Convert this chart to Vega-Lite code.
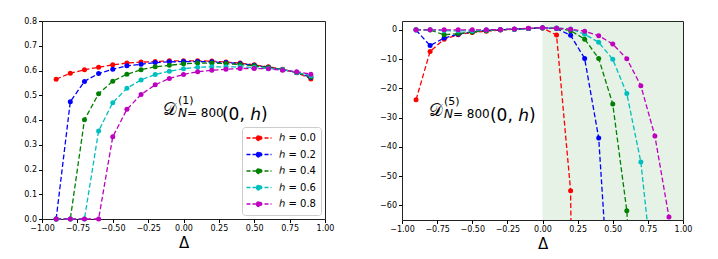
{
  "$schema": "https://vega.github.io/schema/vega-lite/v6.json",
  "padding": {"left": 23, "top": 16, "right": 5, "bottom": 5},
  "spacing": 44,
  "background": "white",
  "config": {
    "font": "DejaVu Sans",
    "view": {"stroke": "#222", "strokeWidth": 1},
    "axis": {"grid": false, "domain": false, "labelFont": "DejaVu Sans", "labelFontSize": 8, "labelColor": "#000", "tickColor": "#000", "tickSize": 3.5, "labelPadding": 2, "labelOverlap": false, "labelFlush": false, "titleFont": "DejaVu Sans", "titleFontWeight": "normal", "titleFontSize": 15, "titleColor": "#000", "titlePadding": 3}
  },
  "resolve": {"legend": {"color": "independent"}},
  "datasets": {
    "left": [
      {"h":0.0,"d":-0.9,"v":0.565},{"h":0.0,"d":-0.8,"v":0.589},{"h":0.0,"d":-0.7,"v":0.603},{"h":0.0,"d":-0.6,"v":0.613},{"h":0.0,"d":-0.5,"v":0.623},{"h":0.0,"d":-0.4,"v":0.630},{"h":0.0,"d":-0.3,"v":0.634},{"h":0.0,"d":-0.2,"v":0.636},{"h":0.0,"d":-0.1,"v":0.639},{"h":0.0,"d":0.0,"v":0.639},{"h":0.0,"d":0.1,"v":0.639},{"h":0.0,"d":0.2,"v":0.638},{"h":0.0,"d":0.3,"v":0.634},{"h":0.0,"d":0.4,"v":0.630},{"h":0.0,"d":0.5,"v":0.623},{"h":0.0,"d":0.6,"v":0.615},{"h":0.0,"d":0.7,"v":0.605},{"h":0.0,"d":0.8,"v":0.591},{"h":0.0,"d":0.9,"v":0.566},
      {"h":0.2,"d":-0.9,"v":0.0},{"h":0.2,"d":-0.8,"v":0.474},{"h":0.2,"d":-0.7,"v":0.556},{"h":0.2,"d":-0.6,"v":0.588},{"h":0.2,"d":-0.5,"v":0.605},{"h":0.2,"d":-0.4,"v":0.619},{"h":0.2,"d":-0.3,"v":0.625},{"h":0.2,"d":-0.2,"v":0.632},{"h":0.2,"d":-0.1,"v":0.635},{"h":0.2,"d":0.0,"v":0.636},{"h":0.2,"d":0.1,"v":0.636},{"h":0.2,"d":0.2,"v":0.635},{"h":0.2,"d":0.3,"v":0.632},{"h":0.2,"d":0.4,"v":0.628},{"h":0.2,"d":0.5,"v":0.621},{"h":0.2,"d":0.6,"v":0.613},{"h":0.2,"d":0.7,"v":0.604},{"h":0.2,"d":0.8,"v":0.592},{"h":0.2,"d":0.9,"v":0.572},
      {"h":0.4,"d":-0.9,"v":0.0},{"h":0.4,"d":-0.8,"v":0.0},{"h":0.4,"d":-0.7,"v":0.401},{"h":0.4,"d":-0.6,"v":0.506},{"h":0.4,"d":-0.5,"v":0.557},{"h":0.4,"d":-0.4,"v":0.585},{"h":0.4,"d":-0.3,"v":0.603},{"h":0.4,"d":-0.2,"v":0.615},{"h":0.4,"d":-0.1,"v":0.621},{"h":0.4,"d":0.0,"v":0.627},{"h":0.4,"d":0.1,"v":0.630},{"h":0.4,"d":0.2,"v":0.630},{"h":0.4,"d":0.3,"v":0.628},{"h":0.4,"d":0.4,"v":0.624},{"h":0.4,"d":0.5,"v":0.619},{"h":0.4,"d":0.6,"v":0.612},{"h":0.4,"d":0.7,"v":0.604},{"h":0.4,"d":0.8,"v":0.592},{"h":0.4,"d":0.9,"v":0.574},
      {"h":0.6,"d":-0.9,"v":0.0},{"h":0.6,"d":-0.8,"v":0.0},{"h":0.6,"d":-0.7,"v":0.0},{"h":0.6,"d":-0.6,"v":0.356},{"h":0.6,"d":-0.5,"v":0.470},{"h":0.6,"d":-0.4,"v":0.528},{"h":0.6,"d":-0.3,"v":0.562},{"h":0.6,"d":-0.2,"v":0.584},{"h":0.6,"d":-0.1,"v":0.597},{"h":0.6,"d":0.0,"v":0.607},{"h":0.6,"d":0.1,"v":0.613},{"h":0.6,"d":0.2,"v":0.615},{"h":0.6,"d":0.3,"v":0.615},{"h":0.6,"d":0.4,"v":0.615},{"h":0.6,"d":0.5,"v":0.612},{"h":0.6,"d":0.6,"v":0.608},{"h":0.6,"d":0.7,"v":0.603},{"h":0.6,"d":0.8,"v":0.593},{"h":0.6,"d":0.9,"v":0.579},
      {"h":0.8,"d":-0.9,"v":0.0},{"h":0.8,"d":-0.8,"v":0.0},{"h":0.8,"d":-0.7,"v":0.0},{"h":0.8,"d":-0.6,"v":0.0},{"h":0.8,"d":-0.5,"v":0.332},{"h":0.8,"d":-0.4,"v":0.443},{"h":0.8,"d":-0.3,"v":0.503},{"h":0.8,"d":-0.2,"v":0.542},{"h":0.8,"d":-0.1,"v":0.568},{"h":0.8,"d":0.0,"v":0.584},{"h":0.8,"d":0.1,"v":0.595},{"h":0.8,"d":0.2,"v":0.601},{"h":0.8,"d":0.3,"v":0.605},{"h":0.8,"d":0.4,"v":0.608},{"h":0.8,"d":0.5,"v":0.608},{"h":0.8,"d":0.6,"v":0.607},{"h":0.8,"d":0.7,"v":0.601},{"h":0.8,"d":0.8,"v":0.595},{"h":0.8,"d":0.9,"v":0.585}
    ],
    "right": [
      {"h":0.0,"d":-0.9,"v":-23.9},{"h":0.0,"d":-0.8,"v":-7.4},{"h":0.0,"d":-0.7,"v":-3.2},{"h":0.0,"d":-0.6,"v":-1.7},{"h":0.0,"d":-0.5,"v":-0.9},{"h":0.0,"d":-0.4,"v":-0.5},{"h":0.0,"d":-0.3,"v":-0.1},{"h":0.0,"d":-0.2,"v":0.2},{"h":0.0,"d":-0.1,"v":0.4},{"h":0.0,"d":0.0,"v":0.6},{"h":0.0,"d":0.1,"v":-1.8},{"h":0.0,"d":0.2,"v":-55.0},{"h":0.0,"d":0.3,"v":-500.0},
      {"h":0.2,"d":-0.9,"v":-0.1},{"h":0.2,"d":-0.8,"v":-5.4},{"h":0.2,"d":-0.7,"v":-2.8},{"h":0.2,"d":-0.6,"v":-1.5},{"h":0.2,"d":-0.5,"v":-0.7},{"h":0.2,"d":-0.4,"v":-0.2},{"h":0.2,"d":-0.3,"v":0.0},{"h":0.2,"d":-0.2,"v":0.2},{"h":0.2,"d":-0.1,"v":0.4},{"h":0.2,"d":0.0,"v":0.7},{"h":0.2,"d":0.1,"v":0.4},{"h":0.2,"d":0.2,"v":-1.9},{"h":0.2,"d":0.3,"v":-9.8},{"h":0.2,"d":0.4,"v":-37.0},{"h":0.2,"d":0.5,"v":-111.0},
      {"h":0.4,"d":-0.9,"v":0.0},{"h":0.4,"d":-0.8,"v":-0.1},{"h":0.4,"d":-0.7,"v":-1.7},{"h":0.4,"d":-0.6,"v":-1.3},{"h":0.4,"d":-0.5,"v":-0.8},{"h":0.4,"d":-0.4,"v":-0.3},{"h":0.4,"d":-0.3,"v":0.0},{"h":0.4,"d":-0.2,"v":0.2},{"h":0.4,"d":-0.1,"v":0.4},{"h":0.4,"d":0.0,"v":0.6},{"h":0.4,"d":0.1,"v":0.5},{"h":0.4,"d":0.2,"v":-0.3},{"h":0.4,"d":0.3,"v":-3.2},{"h":0.4,"d":0.4,"v":-9.8},{"h":0.4,"d":0.5,"v":-25.4},{"h":0.4,"d":0.6,"v":-61.8},{"h":0.4,"d":0.7,"v":-142.0},
      {"h":0.6,"d":-0.9,"v":0.0},{"h":0.6,"d":-0.8,"v":0.0},{"h":0.6,"d":-0.7,"v":-0.3},{"h":0.6,"d":-0.6,"v":-0.4},{"h":0.6,"d":-0.5,"v":-0.3},{"h":0.6,"d":-0.4,"v":-0.1},{"h":0.6,"d":-0.3,"v":0.1},{"h":0.6,"d":-0.2,"v":0.2},{"h":0.6,"d":-0.1,"v":0.4},{"h":0.6,"d":0.0,"v":0.6},{"h":0.6,"d":0.1,"v":0.6},{"h":0.6,"d":0.2,"v":0.3},{"h":0.6,"d":0.3,"v":-1.5},{"h":0.6,"d":0.4,"v":-4.3},{"h":0.6,"d":0.5,"v":-10.1},{"h":0.6,"d":0.6,"v":-21.8},{"h":0.6,"d":0.7,"v":-45.2},{"h":0.6,"d":0.8,"v":-90.0},
      {"h":0.8,"d":-0.9,"v":0.0},{"h":0.8,"d":-0.8,"v":0.0},{"h":0.8,"d":-0.7,"v":0.0},{"h":0.8,"d":-0.6,"v":0.0},{"h":0.8,"d":-0.5,"v":0.0},{"h":0.8,"d":-0.4,"v":0.0},{"h":0.8,"d":-0.3,"v":0.1},{"h":0.8,"d":-0.2,"v":0.3},{"h":0.8,"d":-0.1,"v":0.5},{"h":0.8,"d":0.0,"v":0.7},{"h":0.8,"d":0.1,"v":0.5},{"h":0.8,"d":0.2,"v":0.2},{"h":0.8,"d":0.3,"v":-0.5},{"h":0.8,"d":0.4,"v":-2.0},{"h":0.8,"d":0.5,"v":-4.9},{"h":0.8,"d":0.6,"v":-9.9},{"h":0.8,"d":0.7,"v":-19.1},{"h":0.8,"d":0.8,"v":-36.3},{"h":0.8,"d":0.9,"v":-64.0}
    ]
  },
  "hconcat": [
    {
      "width": 283,
      "height": 198,
      "encoding": {
        "x": {"field": "d", "type": "quantitative", "title": "Δ", "scale": {"domain": [-1, 1], "nice": false}, "axis": {"values": [-1, -0.75, -0.5, -0.25, 0, 0.25, 0.5, 0.75, 1], "format": ".2f", "labelExpr": "replace(datum.label, '-', '−')"}},
        "y": {"field": "v", "type": "quantitative", "title": null, "scale": {"domain": [0, 0.8], "nice": false, "zero": false}, "axis": {"values": [0, 0.1, 0.2, 0.3, 0.4, 0.5, 0.6, 0.7, 0.8], "format": ".1f"}}
      },
      "layer": [
        {
          "data": {"name": "left"},
          "mark": {"type": "line", "strokeDash": [5, 2.5], "strokeWidth": 1.3},
          "encoding": {
            "color": {"field": "h", "type": "nominal", "scale": {"domain": [0, 0.2, 0.4, 0.6, 0.8], "range": ["#ff0000", "#0000ff", "#008000", "#00bfbf", "#bf00bf"]},
              "legend": {"title": null, "orient": "bottom-right", "offset": 4, "fillColor": "rgba(255,255,255,0.85)", "strokeColor": "#cccccc", "cornerRadius": 3, "padding": 5, "labelFont": "DejaVu Sans", "labelFontSize": 10, "labelColor": "#000", "symbolSize": 100, "symbolType": "M-2.5,0H2.5M-0.5,0A0.5,0.5,0,1,0,0.5,0A0.5,0.5,0,1,0,-0.5,0Z", "symbolOffset": 6, "labelOffset": 14, "rowPadding": 4.5, "symbolStrokeWidth": 1.3,
                "labelExpr": "'ℎ = ' + format(datum.value, '.1f')",
                "encode": {"symbols": {"update": {"fill": {"scale": "color", "field": "value"}, "stroke": {"scale": "color", "field": "value"}, "strokeDash": {"value": [4, 2]}, "opacity": {"value": 1}, "fillOpacity": {"value": 1}}}}}
            }
          }
        },
        {
          "data": {"name": "left"},
          "mark": {"type": "point", "filled": true, "shape": "circle", "size": 25, "opacity": 1},
          "encoding": {"color": {"field": "h", "type": "nominal", "legend": null}}
        },
        {
          "data": {"values": [{"x": -0.145, "y": 0.4}]},
          "encoding": {"x": {"field": "x", "type": "quantitative"}, "y": {"field": "y", "type": "quantitative"}},
          "layer": [
            {"mark": {"type": "text", "text": "𝒟", "align": "left", "baseline": "alphabetic", "fontSize": 17, "dy": -5, "font": "DejaVu Serif"}},
            {"mark": {"type": "text", "text": "(1)", "align": "left", "baseline": "alphabetic", "fontSize": 11, "dx": 15, "dy": -16}},
            {"mark": {"type": "text", "text": "N", "align": "left", "baseline": "alphabetic", "fontSize": 12, "fontStyle": "italic", "dx": 15, "dy": -3}},
            {"mark": {"type": "text", "text": "= 800", "align": "left", "baseline": "alphabetic", "fontSize": 12, "dx": 24, "dy": -3}},
            {"mark": {"type": "text", "text": "(0, ℎ)", "align": "left", "baseline": "alphabetic", "fontSize": 17, "dx": 59}}
          ]
        }
      ]
    },
    {
      "width": 281,
      "height": 199,
      "encoding": {
        "x": {"field": "d", "type": "quantitative", "title": "Δ", "scale": {"domain": [-1, 1], "nice": false}, "axis": {"values": [-1, -0.75, -0.5, -0.25, 0, 0.25, 0.5, 0.75, 1], "format": ".2f", "labelExpr": "replace(datum.label, '-', '−')"}},
        "y": {"field": "v", "type": "quantitative", "title": null, "scale": {"domain": [-65, 3], "nice": false, "zero": false}, "axis": {"values": [0, -10, -20, -30, -40, -50, -60], "format": "d", "labelExpr": "replace(datum.label, '-', '−')"}}
      },
      "layer": [
        {
          "data": {"values": [{"a": 0, "b": 1, "t": 3, "u": -65}]},
          "mark": {"type": "rect", "color": "#008000", "opacity": 0.1},
          "encoding": {"x": {"field": "a", "type": "quantitative"}, "x2": {"field": "b"}, "y": {"field": "t", "type": "quantitative"}, "y2": {"field": "u"}}
        },
        {
          "data": {"values": [{"z": 0}]},
          "mark": {"type": "rule", "color": "#999999", "strokeDash": [5, 3], "strokeWidth": 1},
          "encoding": {"y": {"field": "z", "type": "quantitative"}}
        },
        {
          "data": {"name": "right"},
          "mark": {"type": "line", "strokeDash": [5, 2.5], "strokeWidth": 1.3, "clip": true},
          "encoding": {"color": {"field": "h", "type": "nominal", "scale": {"domain": [0, 0.2, 0.4, 0.6, 0.8], "range": ["#ff0000", "#0000ff", "#008000", "#00bfbf", "#bf00bf"]}, "legend": null}}
        },
        {
          "data": {"name": "right"},
          "mark": {"type": "point", "filled": true, "shape": "circle", "size": 25, "opacity": 1, "clip": true},
          "encoding": {"color": {"field": "h", "type": "nominal", "legend": null}}
        },
        {
          "data": {"values": [{"x": -0.808, "y": -31.2}]},
          "encoding": {"x": {"field": "x", "type": "quantitative"}, "y": {"field": "y", "type": "quantitative"}},
          "layer": [
            {"mark": {"type": "text", "text": "𝒟", "align": "left", "baseline": "alphabetic", "fontSize": 17, "dy": -5, "font": "DejaVu Serif"}},
            {"mark": {"type": "text", "text": "(5)", "align": "left", "baseline": "alphabetic", "fontSize": 11, "dx": 15, "dy": -16}},
            {"mark": {"type": "text", "text": "N", "align": "left", "baseline": "alphabetic", "fontSize": 12, "fontStyle": "italic", "dx": 15, "dy": -3}},
            {"mark": {"type": "text", "text": "= 800", "align": "left", "baseline": "alphabetic", "fontSize": 12, "dx": 24, "dy": -3}},
            {"mark": {"type": "text", "text": "(0, ℎ)", "align": "left", "baseline": "alphabetic", "fontSize": 17, "dx": 61}}
          ]
        }
      ]
    }
  ]
}
